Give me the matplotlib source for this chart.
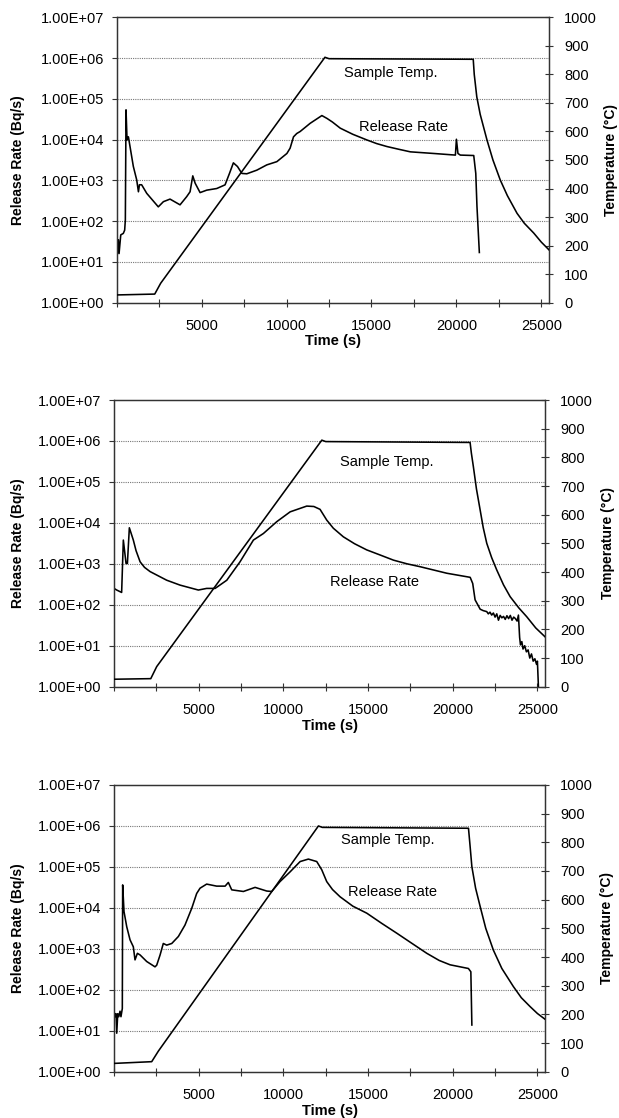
import matplotlib
matplotlib.use("Agg")
import matplotlib.pyplot as plt
from matplotlib.ticker import FixedLocator, NullFormatter, NullLocator

plt.rcParams["font.family"] = ["Liberation Sans", "DejaVu Sans"]

# ---- panel 1 ----
t_temp1 = [0, 2240, 2590, 12260, 12500, 20990, 21050, 21200, 21400, 21800, 22150, 22580,
           23000, 23570, 24000, 24550, 25000, 25450]
temp1 = [27, 30, 68, 860, 855, 853, 800, 721, 660, 570, 500, 430,
         375, 313, 278, 244, 212, 185]
t_rel1 = [40, 100, 140, 240, 390, 470, 510, 550, 610, 690, 980, 1180, 1280, 1340, 1470,
          1770, 2450, 2750, 3140, 3730, 4120, 4320, 4480, 4620, 4910, 5300, 5890, 6380,
          6640, 6870, 7110, 7370, 7660, 8250, 8840, 9430, 10020, 10210, 10410, 10600,
          10800, 11390, 12080, 12380, 12700, 13160, 13900, 14730, 15300, 15910, 16600,
          17290, 18660, 19940, 20000, 20090, 20230, 21020, 21140, 21210, 21350]
rel1 = [16, 35, 16, 46, 50, 60, 107, 53700, 9800, 11700, 2200, 1020, 525, 780, 780,
        480, 224, 300, 347, 251, 398, 525, 1290, 851, 501, 575, 631, 776,
        1480, 2690, 2190, 1480, 1450, 1780, 2400, 2880, 4570, 6170, 11700, 14100,
        15800, 25100, 38900, 33100, 27000, 19100, 13500, 9800, 8000, 6760, 5800,
        5010, 4570, 4170, 10200, 4570, 4170, 4070, 1480, 229, 17]

# ---- panel 2 ----
t_temp2 = [0, 2170, 2520, 12270, 12500, 21025, 21100, 21220, 21400, 21620, 21800, 22010,
           22300, 22600, 23000, 23390, 23900, 24370, 24900, 25450]
temp2 = [26, 28, 70, 860, 855, 852, 815, 767, 690, 616, 555, 500,
         450, 407, 355, 314, 275, 244, 205, 174]
t_rel2 = [0, 160, 450, 550, 710, 790, 905, 1140, 1300, 1540, 1800, 2130, 3110, 3900, 4980,
          5470, 5970, 6660, 7440, 8230, 8820, 9610, 10400, 11380, 11800, 12165, 12560,
          12950, 13540, 14200, 14920, 15700, 16500, 17300, 18070, 19650, 21030, 21180,
          21320, 21620, 21800, 22010, 22100, 22200, 22300, 22400, 22500, 22600, 22700,
          22800, 22900, 23000, 23100, 23200, 23300, 23400, 23500, 23600, 23700, 23800,
          23880, 23950, 24000, 24080, 24150, 24250, 24350, 24450, 24550, 24650, 24750,
          24850, 24950, 25000, 25060]
rel2 = [251, 229, 200, 3800, 1020, 1020, 7590, 3800, 2100, 1120, 820, 646, 398, 302, 229,
        251, 251, 398, 1120, 3800, 5500, 10700, 18600, 25700, 25100, 21400, 11700,
        7400, 4570, 3100, 2190, 1650, 1230, 1000, 851, 589, 468, 331,
        132, 78, 72, 68, 60, 66, 56, 63, 50, 60, 42,
        55, 48, 52, 44, 54, 46, 55, 42, 50, 46, 40,
        56, 16, 10.5, 12.6, 8.3, 10, 7.1, 7.9, 5, 6.3, 4.2,
        4.8, 3.5, 4.2, 1.0]

# ---- panel 3 ----
t_temp3 = [0, 2225, 2620, 12070, 12300, 20930, 21020, 21130, 21350, 21620, 21950, 22400,
           22900, 23580, 24050, 24570, 25000, 25450]
temp3 = [29, 35, 72, 857, 852, 849, 790, 715, 640, 576, 500, 424,
         360, 297, 258, 227, 203, 183]
t_rel3 = [0, 60, 120, 160, 220, 280, 355, 410, 490, 510, 590, 750, 945, 1140, 1240,
          1380, 1540, 1930, 2420, 2520, 2720, 2910, 3110, 3410, 3800, 4190, 4590, 4880,
          5080, 5470, 6060, 6560, 6750, 6950, 7640, 8330, 9020, 9310, 9800, 10400,
          10990, 11475, 11970, 12265, 12560, 12900, 13350, 14100, 14925, 15800, 16700,
          17600, 18470, 19200, 19845, 20925, 21070, 21130]
rel3 = [30, 22, 26, 8.7, 26, 22, 30, 22, 35, 36300, 8100, 3470, 1660, 1120, 537,
        776, 708, 490, 363, 398, 708, 1350, 1230, 1350, 2000, 3800, 9770, 22400,
        30200, 38000, 33900, 33900, 41700, 27500, 25100, 31600, 25700, 25100, 43700, 75900,
        135000, 155000, 135000, 85100, 43700, 28000, 18600, 11000, 7410, 4200, 2400,
        1350, 776, 520, 407, 331, 275, 13.8]

# annotation positions (time, temperature)
notes = [((16110, 804), (16870, 615)),
         ((16120, 784), (15410, 365)),
         ((16180, 808), (16420, 627))]

panels = [(t_temp1, temp1, t_rel1, rel1),
          (t_temp2, temp2, t_rel2, rel2),
          (t_temp3, temp3, t_rel3, rel3)]

# axes boxes in figure fraction [left, bottom, width, height]
boxes = [[0.1885, 0.7293, 0.6984, 0.2552],
         [0.1842, 0.3858, 0.6963, 0.2564],
         [0.1842, 0.0414, 0.6963, 0.2565]]

ylab_x = [(-0.2275, 1.143), (-0.222, 1.146), (-0.223, 1.143)]

rate_ticks = [1e0, 1e1, 1e2, 1e3, 1e4, 1e5, 1e6, 1e7]
rate_labels = ["1.00E+00", "1.00E+01", "1.00E+02", "1.00E+03",
               "1.00E+04", "1.00E+05", "1.00E+06", "1.00E+07"]

fig = plt.figure(figsize=(6.19, 11.18), dpi=100)
spine_c = "#333333"
fs = 10.5

for i, (tt, temp, tr, rel) in enumerate(panels):
    ax = fig.add_axes(boxes[i])
    ax2 = ax.twinx()

    ax.set_yscale("log")
    ax.set_ylim(1, 1e7)
    ax.set_xlim(0, 25450)
    ax2.set_ylim(0, 1000)

    # dotted decade grid
    for g in rate_ticks[1:-1]:
        ax.axhline(g, color="#777777", lw=0.8, ls=(0, (1, 1)), zorder=1)

    ax.plot(tr, rel, color="black", lw=1.15, zorder=3)
    ax2.plot(tt, temp, color="black", lw=1.15, zorder=3)

    ax.set_yticks(rate_ticks)
    ax.set_yticklabels(rate_labels)
    ax.yaxis.set_minor_locator(NullLocator())
    ax.tick_params(axis="y", direction="out", length=3.5, width=0.8, pad=5.5,
                   labelsize=fs, color=spine_c)

    ax.set_xticks([5000, 10000, 15000, 20000, 25000])
    ax.xaxis.set_minor_locator(FixedLocator([0, 2500, 7500, 12500, 17500, 22500]))
    ax.xaxis.set_minor_formatter(NullFormatter())
    ax.tick_params(axis="x", which="both", direction="inout", length=6, width=0.8,
                   pad=9, labelsize=fs, color=spine_c)

    ax2.set_yticks(range(0, 1001, 100))
    ax2.tick_params(axis="y", direction="inout", length=6, width=0.8, pad=8,
                    labelsize=fs, color=spine_c)

    for a in (ax, ax2):
        for s in a.spines.values():
            s.set_color(spine_c)
            s.set_linewidth(0.9)

    ax.set_ylabel("Release Rate (Bq/s)", fontsize=10, fontweight="bold")
    ax.yaxis.label.set_va("center")
    ax.yaxis.set_label_coords(ylab_x[i][0], 0.5)
    ax2.set_ylabel("Temperature (°C)", fontsize=10, fontweight="bold")
    ax2.yaxis.label.set_va("center")
    ax2.yaxis.set_label_coords(ylab_x[i][1], 0.5)
    ax.set_xlabel("Time (s)", fontsize=10.5, fontweight="bold")
    ax.xaxis.label.set_va("center")
    ax.xaxis.set_label_coords(0.5, -0.136)

    (sx, sy), (rx, ry) = notes[i]
    ax2.text(sx, sy, "Sample Temp.", fontsize=10.5, ha="center", va="center")
    ax2.text(rx, ry, "Release Rate", fontsize=10.5, ha="center", va="center")

fig.savefig("out.png", dpi=100)
